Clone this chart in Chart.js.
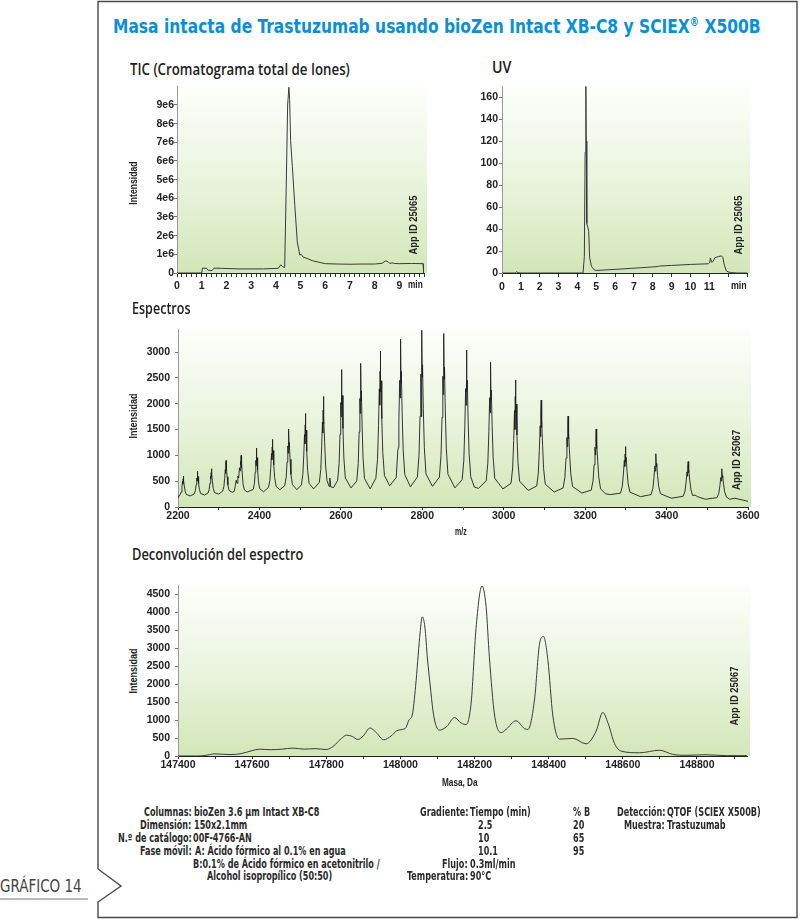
<!DOCTYPE html>
<html>
<head>
<meta charset="utf-8">
<script src="https://cdn.jsdelivr.net/npm/chart.js@4.4.1/dist/chart.umd.min.js"></script>
<style>
html, body { margin: 0; padding: 0; background: #fff; }
#page { position: relative; width: 800px; height: 919px; overflow: hidden; }
.box { position: absolute; }
.txt { position: absolute; white-space: nowrap; line-height: 1; }
</style>
</head>
<body>
<div id="page">
  <svg width="800" height="919" style="position:absolute;left:0;top:0">
    <path d="M98,1.5 V869 L121,886 L98,902 V917.5 H797 V1.5 Z" fill="none" stroke="#4a4a4a" stroke-width="1.4"/>
    <line x1="0" y1="899" x2="88" y2="899" stroke="#777" stroke-width="1"/>
  </svg>
  <div class="box" style="left:140px;top:80px;width:300px;height:215px"><canvas id="tic"></canvas></div>
  <div class="box" style="left:465px;top:79px;width:298px;height:216px"><canvas id="uv"></canvas></div>
  <div class="box" style="left:141px;top:318px;width:623px;height:211px"><canvas id="spec"></canvas></div>
  <div class="box" style="left:141px;top:574px;width:622px;height:204px"><canvas id="dec"></canvas></div>
</div>
<script>
// TIC (time in min, intensity)
const ticPoints = [
  [0, 0], [1.0, 0], [1.03, 0.26e6], [1.2, 0.25e6], [1.27, 0.14e6], [1.42, 0.13e6], [1.5, 0.26e6],
  [1.8, 0.25e6], [2.5, 0.22e6], [3.5, 0.22e6], [4.1, 0.25e6], [4.2, 0.44e6], [4.27, 0.34e6],
  [4.36, 0.3e6], [4.42, 4.5e6], [4.48, 9.0e6], [4.53, 9.95e6], [4.56, 9.3e6], [4.6, 7.1e6],
  [4.67, 5.7e6], [4.77, 3.6e6], [4.87, 1.67e6], [4.97, 0.96e6], [5.03, 1.0e6], [5.1, 0.86e6],
  [5.3, 0.76e6], [5.5, 0.65e6], [6.0, 0.5e6], [6.5, 0.48e6], [7.0, 0.47e6], [7.5, 0.48e6],
  [8.0, 0.48e6], [8.3, 0.52e6], [8.45, 0.65e6], [8.55, 0.6e6], [8.62, 0.5e6], [8.7, 0.55e6],
  [8.8, 0.51e6], [9.0, 0.5e6], [9.5, 0.51e6], [9.96, 0.5e6], [9.99, 0]
];

// UV (time in min, mAU)
const uvPoints = [
  [0, 0], [0.7, 0], [0.78, 1.2], [0.85, 0.3], [1.0, 0], [4.3, 0], [4.37, 15], [4.41, 110],
  [4.45, 170], [4.47, 120], [4.5, 45], [4.55, 42], [4.6, 38], [4.65, 14], [4.75, 6], [4.88, 3],
  [5.0, 2.3], [6.0, 3.3], [7.0, 4.4], [8.0, 5.5], [8.3, 6.0], [8.4, 6.4], [9.0, 6.9], [10.0, 7.8],
  [10.95, 8.4], [11.02, 9.5], [11.06, 13.7], [11.12, 9.8], [11.2, 10.5], [11.3, 14.0], [11.5, 15.0],
  [11.65, 15.6], [11.72, 14.0], [11.8, 7.0], [11.9, 2.0], [12.0, 1.0], [12.2, 0.3], [12.5, 0], [13, 0]
];

// ESI spectrum (m/z, intensity)
const specPoints = [
  [2200, 190], [2202, 205],
  [2204.7, 233], [2207.7, 288], [2209.6, 386], [2211.1, 491], [2211.9, 444], [2212.5, 542], [2213, 600], [2213.6, 483], [2214.2, 514], [2215.6, 405], [2217.5, 308], [2220.5, 241], [2230, 215],
  [2239.7, 253], [2242.7, 318], [2244.6, 434], [2246.1, 560], [2246.9, 504], [2247.5, 620], [2248, 690], [2248.6, 551], [2249.2, 588], [2250.6, 458], [2252.5, 341], [2255.5, 262], [2265, 232],
  [2273.7, 270], [2276.7, 340], [2278.6, 465], [2280.1, 600], [2280.9, 540], [2281.5, 665], [2282, 740], [2282.6, 590], [2283.2, 630], [2284.6, 490], [2286.5, 365], [2289.5, 280], [2300, 250],
  [2309.7, 308], [2312.7, 396], [2314.6, 554], [2316.1, 724], [2316.9, 648], [2317.5, 806], [2318, 900], [2318.6, 711], [2319.2, 761], [2320.6, 585], [2322.5, 428], [2325.5, 320], [2333, 285],
  [2338, 300], [2341, 420], [2343, 520], [2345, 460], [2347, 600], [2349, 560], [2351, 760], [2352.5, 700], [2353.5, 880], [2354.3, 820], [2355, 1000], [2355.7, 760], [2356.5, 850], [2358, 620], [2360, 430], [2363, 330], [2370, 290],
  [2384.7, 341], [2387.7, 460], [2389.6, 673], [2391.1, 902], [2391.9, 800], [2392.5, 1013], [2393, 1140], [2393.6, 885], [2394.2, 953], [2395.6, 715], [2397.5, 503], [2400.5, 358], [2410, 295],
  [2422.1, 379], [2425.7, 518], [2427.9, 766], [2429.7, 1033], [2430.6, 914], [2431.4, 1162], [2432, 1310], [2432.7, 1013], [2433.4, 1092], [2435.2, 815], [2437.4, 568], [2441, 399], [2450, 335],
  [2462.1, 410], [2465.7, 574], [2467.9, 867], [2469.7, 1182], [2470.6, 1042], [2471.4, 1335], [2472, 1510], [2472.7, 1159], [2473.4, 1253], [2475.2, 925], [2477.4, 633], [2481, 434], [2492, 335],
  [2503.1, 428], [2506.7, 634], [2508.9, 1002], [2510.7, 1398], [2511.6, 1222], [2512.4, 1590], [2513, 1810], [2513.7, 1369], [2514.4, 1487], [2516.2, 1075], [2518.4, 708], [2522, 458], [2533, 350],
  [2547.1, 476], [2550.7, 724], [2552.9, 1167], [2554.7, 1644], [2555.6, 1432], [2556.4, 1875], [2557, 2140], [2557.7, 1609], [2558.4, 1751], [2560.2, 1255], [2562.4, 813], [2566, 512], [2571, 400], [2573, 560], [2575, 390], [2582, 375],
  [2592.1, 517], [2595.7, 836], [2597.9, 1406], [2599.7, 2022], [2600.6, 1748], [2601.4, 2318], [2602, 2660], [2602.7, 1976], [2603.4, 2158], [2605.2, 1520], [2607.4, 950], [2611, 562], [2625, 370],
  [2639.1, 505], [2642.7, 844], [2644.9, 1449], [2646.7, 2102], [2647.6, 1812], [2648.4, 2417], [2649, 2780], [2649.7, 2054], [2650.4, 2248], [2652.2, 1570], [2654.4, 965], [2658, 554], [2672, 350],
  [2686, 557], [2690, 924], [2692.5, 1579], [2694.5, 2286], [2695.5, 1972], [2696.3, 2627], [2697, 3020], [2697.8, 2234], [2698.6, 2444], [2700.5, 1710], [2703, 1055], [2707, 610], [2720, 410],
  [2736, 571], [2740, 1100], [2741.5, 1150], [2742.5, 1683], [2744.5, 2452], [2745.5, 2110], [2746.3, 2823], [2747, 3250], [2747.8, 2395], [2748.6, 2623], [2750.5, 1825], [2753, 1113], [2757, 628], [2771, 390],
  [2788, 581], [2792, 1004], [2794.5, 1759], [2796.5, 2574], [2797.5, 1750], [2798.3, 2500], [2799, 3420], [2799.8, 2514], [2800.6, 2756], [2802.5, 1910], [2805, 1155], [2809, 642], [2825, 400],
  [2842, 578], [2846, 992], [2848.5, 1732], [2850.5, 2531], [2851.5, 2176], [2852.3, 2916], [2853, 3360], [2853.8, 2472], [2854.6, 2709], [2856.5, 1880], [2859, 1140], [2863, 637], [2880, 370],
  [2898, 530], [2902, 904], [2904.5, 1572], [2906.5, 2292], [2907.5, 1972], [2908.3, 2640], [2909, 3040], [2909.8, 2239], [2910.6, 2453], [2912.5, 1705], [2915, 1038], [2919, 584], [2928, 385], [2938, 360],
  [2957, 506], [2961, 848], [2963.5, 1458], [2965.5, 2117], [2966.5, 1824], [2967.3, 2434], [2968, 2800], [2968.8, 2068], [2969.6, 2263], [2971.5, 1580], [2974, 970], [2978, 555], [2998, 350],
  [3018, 458], [3022, 756], [3024.5, 1289], [3026.5, 1864], [3027.5, 1500], [3028.3, 2141], [3029, 2460], [3029.8, 1821], [3030.6, 1991], [3032.5, 1395], [3035, 863], [3039, 500], [3060, 320],
  [3081, 406], [3085, 654], [3087.5, 1097], [3089.5, 1574], [3090.5, 1362], [3091.3, 1805], [3092, 2070], [3092.8, 1539], [3093.6, 1681], [3095.5, 1185], [3098, 743], [3102, 442], [3124, 290],
  [3145.9, 369], [3150.3, 576], [3153, 946], [3155.2, 1346], [3156.3, 1168], [3157.2, 1538], [3158, 1760], [3158.9, 1316], [3159.8, 1434], [3161.9, 1020], [3164.6, 650], [3169, 398], [3192, 270],
  [3214.9, 326], [3219.3, 502], [3222, 817], [3224.2, 1157], [3225.3, 1006], [3226.2, 1321], [3227, 1510], [3227.9, 1132], [3228.8, 1233], [3230.9, 880], [3233.6, 565], [3238, 351], [3250, 255], [3262, 240],
  [3286.9, 268], [3291.3, 402], [3294, 642], [3296.2, 901], [3297.3, 786], [3298.2, 1026], [3299, 1170], [3299.9, 882], [3300.8, 959], [3302.9, 690], [3305.6, 450], [3310, 287], [3336, 200],
  [3361.9, 240], [3366.3, 358], [3369, 568], [3371.2, 795], [3372.3, 694], [3373.2, 904], [3374, 1030], [3374.9, 778], [3375.8, 845], [3377.9, 610], [3380.6, 400], [3385, 257], [3412, 170],
  [3440.9, 208], [3445.3, 308], [3448, 487], [3450.2, 680], [3451.3, 594], [3452.2, 773], [3453, 880], [3453.9, 666], [3454.8, 723], [3456.9, 523], [3459.6, 344], [3464, 222], [3470, 230], [3476, 200], [3495, 150],
  [3523.9, 181], [3528.3, 264], [3531, 413], [3533.2, 573], [3534.3, 502], [3535.2, 651], [3536, 740], [3536.9, 562], [3537.8, 609], [3539.9, 443], [3542.6, 294], [3547, 193], [3555, 150],
  [3568, 170], [3578, 150], [3590, 130], [3600, 110]
];

// deconvoluted spectrum (mass in Da, intensity)
const decPoints = [
  [147400, 0], [147450, 0], [147470, 10], [147500, 60], [147540, 40], [147570, 65], [147600, 150],
  [147620, 190], [147650, 175], [147680, 190], [147710, 220], [147740, 190], [147770, 205], [147800, 180],
  [147820, 280], [147840, 480], [147855, 580], [147870, 545], [147885, 460], [147900, 560], [147918, 780],
  [147935, 650], [147955, 450], [147975, 560], [147990, 700], [148005, 740], [148015, 790], [148023, 1000],
  [148032, 1140], [148041, 1940], [148052, 3300], [148059, 3870], [148066, 3590], [148073, 2700],
  [148080, 2000], [148088, 1250], [148095, 880], [148105, 720], [148125, 820], [148146, 1070], [148164, 918],
  [148177, 873], [148191, 1500], [148204, 3550], [148220, 4730], [148231, 4170], [148240, 2750], [148254, 1140],
  [148272, 650], [148285, 740], [148312, 980], [148335, 760], [148344, 740], [148362, 1590], [148375, 3100],
  [148386, 3325], [148398, 2656], [148411, 1140], [148429, 470], [148465, 490], [148501, 340], [148528, 695],
  [148546, 1212], [148560, 918], [148578, 340], [148596, 134], [148645, 90], [148699, 160], [148735, 45],
  [148771, 20], [148825, 35], [148879, 10], [148935, 10]
];

// ticks
const ticYTicks = [0, 1e6, 2e6, 3e6, 4e6, 5e6, 6e6, 7e6, 8e6, 9e6];
const ticYLabels = ['0', '1e6', '2e6', '3e6', '4e6', '5e6', '6e6', '7e6', '8e6', '9e6'];
const ticXLabels = [0, 1, 2, 3, 4, 5, 6, 7, 8, 9];
const uvYTicks = [0, 20, 40, 60, 80, 100, 120, 140, 160];
const uvXLabels = [0, 1, 2, 3, 4, 5, 6, 7, 8, 9, 10, 11];
const specYTicks = [0, 500, 1000, 1500, 2000, 2500, 3000];
const specXLabels = [2200, 2400, 2600, 2800, 3000, 3200, 3400, 3600];
const decYTicks = [0, 500, 1000, 1500, 2000, 2500, 3000, 3500, 4000, 4500];
const decXLabels = [147400, 147600, 147800, 148000, 148200, 148400, 148600, 148800];

function steps(a, b, st) {
  const out = [];
  for (let v = a; v <= b + st / 1000; v += st) out.push(+v.toFixed(3));
  return out;
}

Chart.defaults.font.family = "'Liberation Sans', Arial, sans-serif";

const greenBg = {
  id: 'greenBg',
  beforeDraw(chart) {
    const { ctx, chartArea: a } = chart;
    const g = ctx.createLinearGradient(0, a.top, 0, a.bottom);
    g.addColorStop(0, '#fdfefb');
    g.addColorStop(0.5, '#eaf4de');
    g.addColorStop(1, '#d2e7b8');
    ctx.save();
    ctx.fillStyle = g;
    ctx.fillRect(a.left, a.top, a.right - a.left + 3, a.bottom - a.top);
    ctx.restore();
  }
};

function makeChart(id, points, o) {
  const tickFont = { size: 10.5, weight: 'bold' };
  return new Chart(document.getElementById(id), {
    type: 'line',
    data: {
      datasets: [{
        data: points.map(p => ({ x: p[0], y: p[1] })),
        borderColor: o.color || '#333',
        borderWidth: o.lw || 1,
        pointRadius: 0,
        fill: false,
        tension: o.smooth ? 0.4 : 0,
        cubicInterpolationMode: o.smooth ? 'monotone' : 'default'
      }]
    },
    options: {
      responsive: true,
      maintainAspectRatio: false,
      animation: false,
      layout: { padding: { top: 4, right: 16, left: 0, bottom: 0 } },
      plugins: { legend: { display: false }, tooltip: { enabled: false } },
      scales: {
        x: {
          type: 'linear', min: o.xMin, max: o.xMax,
          afterBuildTicks: s => { s.ticks = o.xTicks.map(v => ({ value: v })); },
          afterFit: s => { s.height = 22; },
          ticks: {
            autoSkip: false, maxRotation: 0, minRotation: 0,
            font: tickFont, color: '#222', padding: o.xPad,
            callback: v => o.xLabels.includes(v) ? String(v) : ''
          },
          grid: { drawOnChartArea: false, drawTicks: true, tickLength: o.xTickLen, tickColor: '#333' },
          border: { color: '#222', width: 1 }
        },
        y: {
          type: 'linear', min: 0, max: o.yMax,
          afterBuildTicks: s => { s.ticks = o.yTicks.map(v => ({ value: v })); },
          afterFit: s => { s.width = 37; },
          ticks: {
            font: tickFont, color: '#222', padding: o.yPad,
            callback: (v, i) => o.yLabels ? o.yLabels[i] : String(v)
          },
          grid: { drawOnChartArea: false, drawTicks: true, tickLength: 3, tickColor: '#777' },
          border: { color: '#9a9a9a', width: 1, dash: [1.5, 1.5] }
        }
      }
    },
    plugins: [greenBg]
  });
}

makeChart('tic', ticPoints, {
  xMin: 0, xMax: 10, xTicks: steps(0, 10, 0.2), xLabels: ticXLabels, xPad: 3, xTickLen: 4,
  yMax: 1e7, yTicks: ticYTicks, yLabels: ticYLabels, yPad: 0, color: '#3a3a3a'
});
makeChart('uv', uvPoints, {
  xMin: 0, xMax: 13, xTicks: steps(0, 13, 1), xLabels: uvXLabels, xPad: 4, xTickLen: 4,
  yMax: 170, yTicks: uvYTicks, yPad: 1, color: '#3a3a3a'
});
makeChart('spec', specPoints, {
  xMin: 2200, xMax: 3600, xTicks: steps(2200, 3600, 100), xLabels: specXLabels, xPad: 0, xTickLen: 3,
  yMax: 3440, yTicks: specYTicks, yPad: 5, color: '#1e1e1e', lw: 0.9
});
makeChart('dec', decPoints, {
  xMin: 147400, xMax: 148935, xTicks: steps(147400, 148900, 100), xLabels: decXLabels, xPad: 0, xTickLen: 3,
  yMax: 4750, yTicks: decYTicks, yPad: 5, color: '#3a3a3a', smooth: true
});

// pick a condensed face if one is installed
function hasFont(name) {
  const c = document.createElement('canvas').getContext('2d');
  const probe = 'mmmmmmmmmmlliWW 0123456789 Ábc';
  c.font = '40px monospace';
  const a = c.measureText(probe).width;
  c.font = "40px '" + name + "', monospace";
  return c.measureText(probe).width !== a;
}
const condName = ['Liberation Sans Narrow', 'DejaVu Sans Condensed', 'Roboto Condensed', 'Open Sans Condensed'].find(hasFont);
const COND = condName ? "'" + condName + "', 'Roboto', sans-serif" : "'Roboto', sans-serif";
const SANS = "'Liberation Sans', Arial, sans-serif";
const OPEN = "'Open Sans', 'Liberation Sans', sans-serif";

// text labels: x = left, b = baseline, w = width in the picture
const texts = [
  { h: 'Masa intacta de Trastuzumab usando bioZen Intact XB-C8 y SCIEX<span style="font-size:0.6em;vertical-align:0.6em">®</span> X500B', x: 113, b: 33.3, w: 648, s: 19, f: COND, wt: 'bold', c: '#0b90d5' },
  { t: 'TIC (Cromatograma total de Iones)', x: 130, b: 75, w: 220, s: 15.5, f: OPEN, wt: 600 },
  { t: 'UV', x: 491.7, b: 73.3, w: 19.3, s: 15.5, f: OPEN, wt: 600 },
  { t: 'Espectros', x: 131.7, b: 314, w: 58.3, s: 15.5, f: OPEN, wt: 600 },
  { t: 'Deconvolución del espectro', x: 131.7, b: 560.7, w: 171.7, s: 15.5, f: OPEN, wt: 600 },
  { t: 'Intensidad', cx: 134, cy: 183.3, w: 43.3, s: 10, f: SANS, wt: 'bold', rot: true },
  { t: 'Intensidad', cx: 134, cy: 415.5, w: 45, s: 10, f: SANS, wt: 'bold', rot: true },
  { t: 'Intensidad', cx: 134, cy: 670.5, w: 45, s: 10, f: SANS, wt: 'bold', rot: true },
  { t: 'App ID 25065', cx: 412.5, cy: 224.5, w: 59, s: 10.5, f: SANS, wt: 'bold', rot: true },
  { t: 'App ID 25065', cx: 737.5, cy: 224.5, w: 59, s: 10.5, f: SANS, wt: 'bold', rot: true },
  { t: 'App ID 25067', cx: 736, cy: 460, w: 60, s: 10.5, f: SANS, wt: 'bold', rot: true },
  { t: 'App ID 25067', cx: 734, cy: 696, w: 59, s: 10.5, f: SANS, wt: 'bold', rot: true },
  { t: 'min', x: 408, b: 288.3, w: 15, s: 10.5, f: SANS, wt: 'bold' },
  { t: 'min', x: 731, b: 289.3, w: 16, s: 10.5, f: SANS, wt: 'bold' },
  { t: 'm/z', x: 455, b: 535, w: 12, s: 10.5, f: SANS, wt: 'bold' },
  { t: 'Masa, Da', x: 442, b: 786, w: 36, s: 10.5, f: SANS, wt: 'bold' },
  { t: 'GRÁFICO 14', x: 0, b: 892.5, w: 82, s: 17, f: COND, wt: 'normal', c: '#444' }
];

// footer block: one face and one scale for all of it
const footer = [
  { t: 'Columnas:', x: 191.7, r: 1, b: 816.5 },
  { t: 'Dimensión:', x: 191.7, r: 1, b: 830 },
  { t: 'N.º de catálogo:', x: 191.7, r: 1, b: 843 },
  { t: 'Fase móvil:', x: 191.7, r: 1, b: 856 },
  { t: 'bioZen 3.6 µm Intact XB-C8', x: 194.3, b: 816.5 },
  { t: '150x2.1mm', x: 194.3, b: 830 },
  { t: '00F-4766-AN', x: 192.7, b: 843 },
  { t: 'A: Ácido fórmico al 0.1% en agua', x: 195, b: 856 },
  { t: 'B:0.1% de Ácido fórmico en acetonitrilo /', x: 192.7, b: 868.5 },
  { t: 'Alcohol isopropílico (50:50)', x: 206.7, b: 881 },
  { t: 'Gradiente:', x: 468.3, r: 1, b: 816.5 },
  { t: 'Tiempo (min)', x: 470, b: 816.5 },
  { t: '% B', x: 573.3, b: 816.5 },
  { t: '2.5', x: 478.3, b: 830 },
  { t: '20', x: 573.3, b: 830 },
  { t: '10', x: 478.3, b: 843 },
  { t: '65', x: 573.3, b: 843 },
  { t: '10.1', x: 478.3, b: 856 },
  { t: '95', x: 573.3, b: 856 },
  { t: 'Flujo:', x: 468.3, r: 1, b: 868.5 },
  { t: '0.3ml/min', x: 470, b: 868.5 },
  { t: 'Temperatura:', x: 468.3, r: 1, b: 881 },
  { t: '90°C', x: 470, b: 881 },
  { t: 'Detección:', x: 665, r: 1, b: 816.5 },
  { t: 'QTOF (SCIEX X500B)', x: 666.7, b: 816.5 },
  { t: 'Muestra:', x: 665, r: 1, b: 830 },
  { t: 'Trastuzumab', x: 666.7, b: 830 }
];

const page = document.getElementById('page');
function addText(o, s, f, wt, c) {
  const d = document.createElement('div');
  d.className = 'txt';
  d.style.fontSize = s + 'px';
  d.style.fontFamily = f;
  d.style.fontWeight = wt;
  d.style.color = c;
  if (o.h) d.innerHTML = o.h; else d.textContent = o.t;
  page.appendChild(d);
  return d;
}

texts.forEach(o => {
  const d = addText(o, o.s, o.f, o.wt, o.c || '#222');
  const k = o.w / d.offsetWidth;
  if (o.rot) {
    d.style.left = o.cx + 'px';
    d.style.top = o.cy + 'px';
    d.style.transform = 'translate(-50%,-50%) rotate(-90deg) scaleX(' + k + ')';
  } else {
    d.style.transformOrigin = '0 0';
    d.style.left = o.x + 'px';
    d.style.top = (o.b - 0.86 * o.s) + 'px';
    d.style.transform = 'scaleX(' + k + ')';
  }
});

// "Columnas:" is about 47.7 px wide in the picture; scale the whole block to that
const fs = 11.5;
const probe = addText({ t: 'Columnas:' }, fs, COND, 'bold', '#2a2a2a');
const fk = 47.7 / probe.offsetWidth;
probe.remove();
footer.forEach(o => {
  const d = addText(o, fs, COND, 'bold', '#2a2a2a');
  const w = d.offsetWidth * fk;
  d.style.transformOrigin = '0 0';
  d.style.left = (o.r ? o.x - w : o.x) + 'px';
  d.style.top = (o.b - 0.86 * fs) + 'px';
  d.style.transform = 'scaleX(' + fk + ')';
});
</script>
</body>
</html>
